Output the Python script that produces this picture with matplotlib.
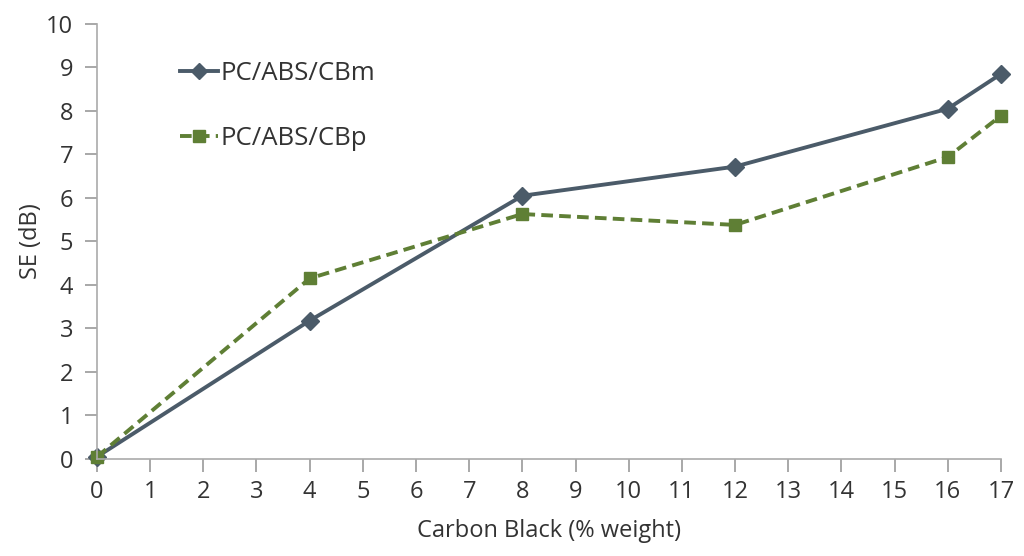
import matplotlib
matplotlib.use("Agg")
from matplotlib import pyplot as plt

# Data
carbon_black = [0, 4, 8, 12, 16, 17]
se_cbm = [0.05, 3.18, 6.05, 6.72, 8.05, 8.85]
se_cbp = [0.05, 4.15, 5.63, 5.38, 6.94, 7.89]
x_ticks = list(range(0, 18))
y_ticks = list(range(0, 11))

plt.rcParams["font.family"] = ["Open Sans", "DejaVu Sans"]

fig = plt.figure(figsize=(10.24, 5.56), dpi=100)
ax = fig.add_axes([0.0947, 0.1745, 0.8828, 0.7825])

ax.plot(carbon_black, se_cbm, color="#4b5b69", lw=2.8, marker="D",
        ms=9, label="PC/ABS/CBm")
ax.plot(carbon_black, se_cbp, color="#5f7f35", lw=2.8, ls=(0, (3, 1.6)),
        marker="s", ms=9, label="PC/ABS/CBp")

ax.set_xlim(0, 17)
ax.set_ylim(0, 10)
ax.set_xticks(x_ticks)
ax.set_yticks(y_ticks)
ax.tick_params(axis="both", labelsize=17, colors="#999999",
               labelcolor="#333333", length=9, width=1.2, direction="out")
ax.tick_params(axis="x", pad=6)
ax.tick_params(axis="y", pad=8)

for side in ["top", "right"]:
    ax.spines[side].set_visible(False)
for side in ["left", "bottom"]:
    ax.spines[side].set_color("#aaaaaa")
    ax.spines[side].set_linewidth(1.2)

ax.set_xlabel("Carbon Black (% weight)", fontsize=17, color="#333333",
              labelpad=11)
ax.set_ylabel("SE (dB)", fontsize=17, color="#333333", labelpad=2)

leg = ax.legend(loc="upper left", bbox_to_anchor=(0.066, 0.968), frameon=False,
                fontsize=18.5, handlelength=1.5, handletextpad=0.1,
                labelspacing=1.55, markerscale=0.9)
for t in leg.get_texts():
    t.set_color("#333333")

for sp in ax.spines.values():
    sp.set_clip_on(False)
for ln in ax.get_lines():
    ln.set_clip_on(False)

fig.savefig("out.png", dpi=100)
